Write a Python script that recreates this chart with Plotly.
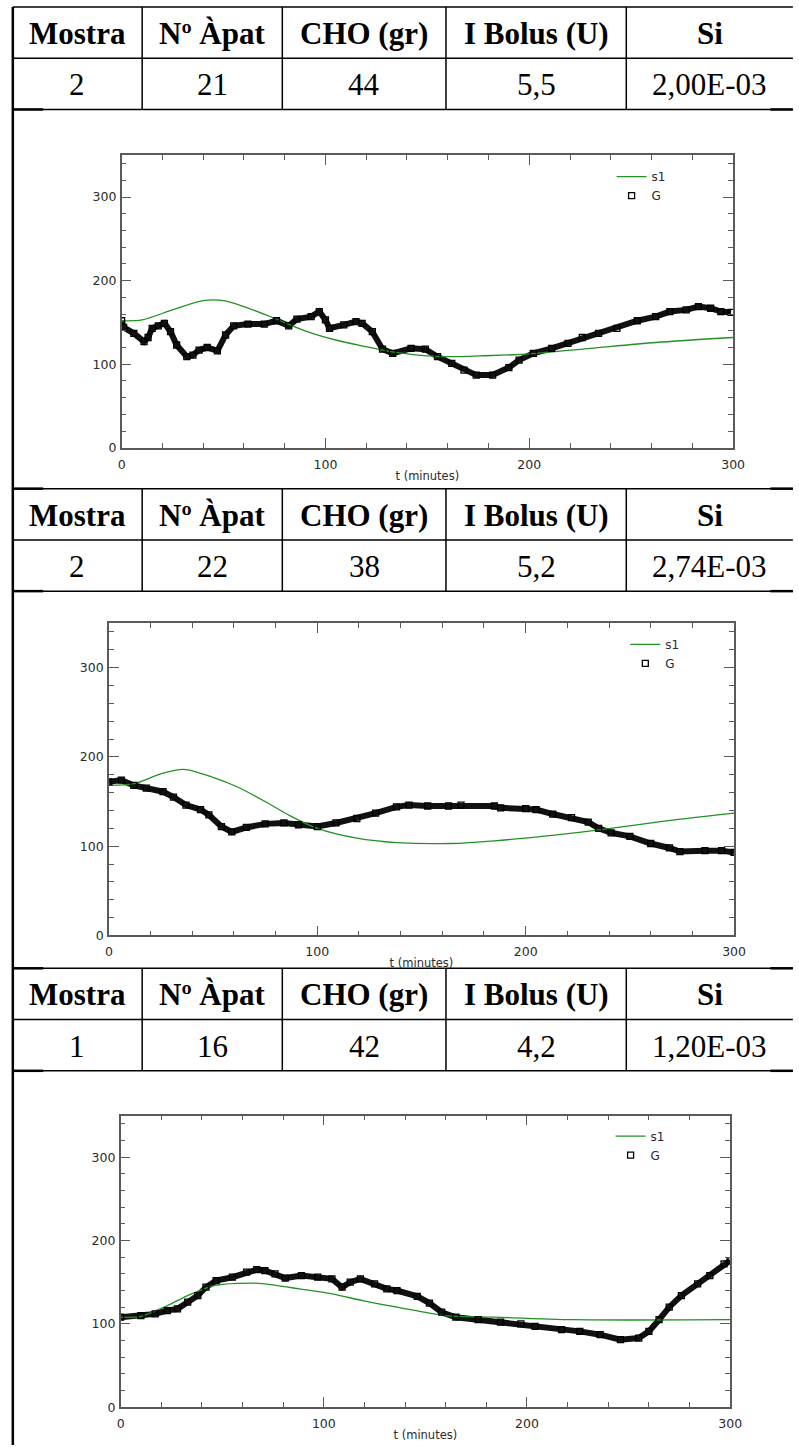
import plotly.graph_objects as go

W, H = 799, 1452

# ---------------- data ----------------
headers = ["Mostra", "Nº Àpat", "CHO (gr)", "I Bolus (U)", "Si"]
rows = [
    ["2", "21", "44", "5,5", "2,00E-03"],
    ["2", "22", "38", "5,2", "2,74E-03"],
    ["1", "16", "42", "4,2", "1,20E-03"],
]

x_ticks = [0, 100, 200, 300]
y_ticks = [0, 100, 200, 300]

# chart 1
g1_t = [0, 1, 6, 11, 13, 15, 18, 21, 24, 27, 32, 35, 38, 42, 47, 51, 55, 62, 70, 76, 82, 86, 93, 97, 100,
        102, 109, 115, 118, 123, 128, 133, 142, 149, 155, 162, 168, 174, 182, 190, 195, 202, 211, 219,
        226, 234, 243, 253, 262, 269, 277, 283, 289, 294, 299]
g1_v = [152, 144, 137, 127, 132, 143, 146, 149, 139, 123, 109, 111, 117, 120, 116, 135, 146, 148, 148, 152,
        146, 154, 157, 163, 153, 143, 147, 151, 149, 139, 118, 113, 119, 118, 109, 101, 93, 87, 87, 96,
        105, 113, 119, 125, 132, 137, 143, 152, 157, 163, 165, 169, 167, 163, 162]
s1_1_t = [0, 10, 25, 40, 50, 60, 75, 90, 105, 120, 130, 150, 165, 176, 198, 230, 262, 300]
s1_1_v = [152, 153, 165, 176, 176, 169, 155, 140, 129, 121, 116, 110, 109, 110, 112, 119, 126, 132]

# chart 2
g2_t = [0, 6, 12, 18, 26, 31, 37, 44, 48, 54, 59, 66, 75, 84, 91, 100, 109, 119, 128, 138, 144, 153, 163,
        169, 185, 188, 200, 205, 213, 222, 230, 235, 241, 250, 260, 269, 274, 286, 294, 300]
g2_v = [172, 174, 168, 165, 161, 155, 146, 141, 135, 122, 116, 121, 125, 126, 124, 122, 126, 131, 137, 144,
        146, 145, 145, 146, 145, 143, 142, 141, 136, 132, 127, 120, 115, 111, 103, 98, 94, 95, 95, 93]
s1_2_t = [0, 12, 25, 36, 50, 62, 75, 87, 100, 119, 138, 164, 185, 216, 238, 263, 300]
s1_2_v = [168, 170, 181, 186, 177, 166, 150, 134, 120, 109, 104, 103, 106, 113, 119, 127, 137]

# chart 3
g3_t = [0, 10, 17, 23, 28, 33, 38, 42, 47, 55, 62, 67, 71, 76, 81, 89, 97, 104, 109, 113, 118, 125, 131,
        136, 146, 152, 158, 165, 176, 187, 197, 204, 217, 226, 236, 246, 255, 260, 265, 270, 276, 284,
        290, 297, 300]
g3_v = [108, 110, 112, 116, 118, 126, 134, 144, 152, 156, 162, 165, 164, 160, 155, 158, 156, 154, 144, 150,
        154, 148, 142, 140, 133, 125, 114, 108, 105, 102, 100, 97, 93, 91, 87, 81, 83, 91, 105, 120, 134,
        148, 158, 172, 176]
s1_3_t = [0, 10, 23, 33, 46, 65, 71, 88, 104, 119, 136, 160, 184, 223, 300]
s1_3_v = [108, 109, 122, 134, 146, 149, 148, 142, 136, 128, 120, 110, 108, 105, 105]

charts = [(g1_t, g1_v, s1_1_t, s1_1_v), (g2_t, g2_v, s1_2_t, s1_2_v), (g3_t, g3_v, s1_3_t, s1_3_v)]

# ---------------- layout geometry (pixels) ----------------
table_tops = [7, 491, 973]
row_h = 51.5
col_edges = [9, 141, 284, 451, 635, 805]
plot_boxes = [(120, 744, 156, 450), (107, 745, 626, 940), (119, 741, 1121, 1414)]
legend_pos = [(620, 163), (634, 633), (619, 1127)]


def fx(px):
    return px / W


def fy(py):
    return 1 - py / H


GREEN = "rgb(35,145,35)"
AXC = "#5a5a5a"
TXT = "#2a2a2a"
FONT = "DejaVu Sans"

fig = go.Figure()
layout = dict(
    width=W, height=H, margin=dict(l=0, r=0, t=0, b=0),
    paper_bgcolor="white", plot_bgcolor="white", showlegend=True,
)

shapes = []
annotations = []

for i, (gt, gv, st, sv) in enumerate(charts):
    k = "" if i == 0 else str(i + 1)
    xa, ya = "x" + k, "y" + k
    lg = "legend" + k
    x0, x1, y0, y1 = plot_boxes[i]
    ax_common = dict(
        showline=True, linecolor=AXC, linewidth=1.5, mirror="allticks",
        ticks="inside", ticklen=10, tickwidth=1.3, tickcolor=AXC,
        showgrid=False, zeroline=False,
        tickfont=dict(family=FONT, size=12.5, color=TXT),
        minor=dict(dtick=20, ticks="inside", ticklen=5, tickwidth=1.2, tickcolor=AXC, showgrid=False),
        fixedrange=True,
    )
    layout["xaxis" + k] = dict(
        ax_common, domain=[fx(x0), fx(x1)], range=[0, 300], tickvals=x_ticks,
        anchor=ya, ticklabelstandoff=4,
        title=dict(text="t (minutes)", font=dict(family=FONT, size=11.5, color=TXT), standoff=1),
    )
    layout["yaxis" + k] = dict(
        ax_common, domain=[fy(y1), fy(y0)], range=[0, 350], tickvals=y_ticks, anchor=xa,
        ticklabelstandoff=1,
    )
    lx, ly = legend_pos[i]
    layout[lg] = dict(
        x=fx(lx), y=fy(ly), xanchor="left", yanchor="top", xref="paper", yref="paper",
        bgcolor="rgba(0,0,0,0)", font=dict(family=FONT, size=12, color=TXT),
        itemwidth=30, tracegroupgap=0,
    )
    # thick chain of G readings (joins the squares)
    fig.add_trace(go.Scatter(x=gt, y=gv, mode="lines", line=dict(color="#111", width=6),
                             xaxis=xa, yaxis=ya, showlegend=False, hoverinfo="skip"))
    fig.add_trace(go.Scatter(x=st, y=sv, mode="lines", name="s1",
                             line=dict(color=GREEN, width=1.3, shape="spline", smoothing=0.8),
                             xaxis=xa, yaxis=ya, legend=lg))
    fig.add_trace(go.Scatter(x=gt, y=gv, mode="markers", name="G",
                             marker=dict(symbol="square-open", size=6, color="#000", line=dict(width=1.3, color="#000")),
                             xaxis=xa, yaxis=ya, legend=lg))

# ---------------- tables ----------------
LINE = dict(color="black", width=1.5)
for ti, top in enumerate(table_tops):
    ys = [top, top + row_h, top + 2 * row_h]
    for yy in ys:
        shapes.append(dict(type="line", xref="paper", yref="paper", x0=fx(col_edges[0]), x1=fx(col_edges[-1]),
                           y0=fy(yy), y1=fy(yy), line=LINE))
    for xx in col_edges[1:-1]:
        shapes.append(dict(type="line", xref="paper", yref="paper", x0=fx(xx), x1=fx(xx),
                           y0=fy(ys[0]), y1=fy(ys[2]), line=LINE))
    # thick stubs where table meets graph cells
    stub_ys = [ys[2]] if ti == 0 else [ys[0], ys[2]]
    for yy in stub_ys:
        shapes.append(dict(type="line", xref="paper", yref="paper", x0=fx(9), x1=fx(40),
                           y0=fy(yy), y1=fy(yy), line=dict(color="black", width=2.5)))
        shapes.append(dict(type="line", xref="paper", yref="paper", x0=fx(782), x1=fx(805),
                           y0=fy(yy), y1=fy(yy), line=dict(color="black", width=2.5)))
    for ci in range(5):
        cx = (col_edges[ci] + col_edges[ci + 1]) / 2
        annotations.append(dict(text="<b>" + headers[ci] + "</b>", xref="paper", yref="paper",
                                x=fx(cx), y=fy(ys[0] + row_h / 2 + 1), showarrow=False,
                                xanchor="center", yanchor="middle",
                                font=dict(family="Liberation Serif", size=31, color="black")))
        annotations.append(dict(text=rows[ti][ci], xref="paper", yref="paper",
                                x=fx(cx), y=fy(ys[1] + row_h / 2 + 1), showarrow=False,
                                xanchor="center", yanchor="middle",
                                font=dict(family="Liberation Serif", size=31, color="black")))

# left outer border
shapes.append(dict(type="line", xref="paper", yref="paper", x0=fx(9), x1=fx(9), y0=fy(7), y1=fy(1452),
                   line=dict(color="black", width=2.5)))

layout["shapes"] = shapes
layout["annotations"] = annotations
fig.update_layout(**layout)

fig.write_html("out.html", config={"displayModeBar": False},
               post_script="document.body.style.margin='0';document.body.style.overflow='hidden';")
